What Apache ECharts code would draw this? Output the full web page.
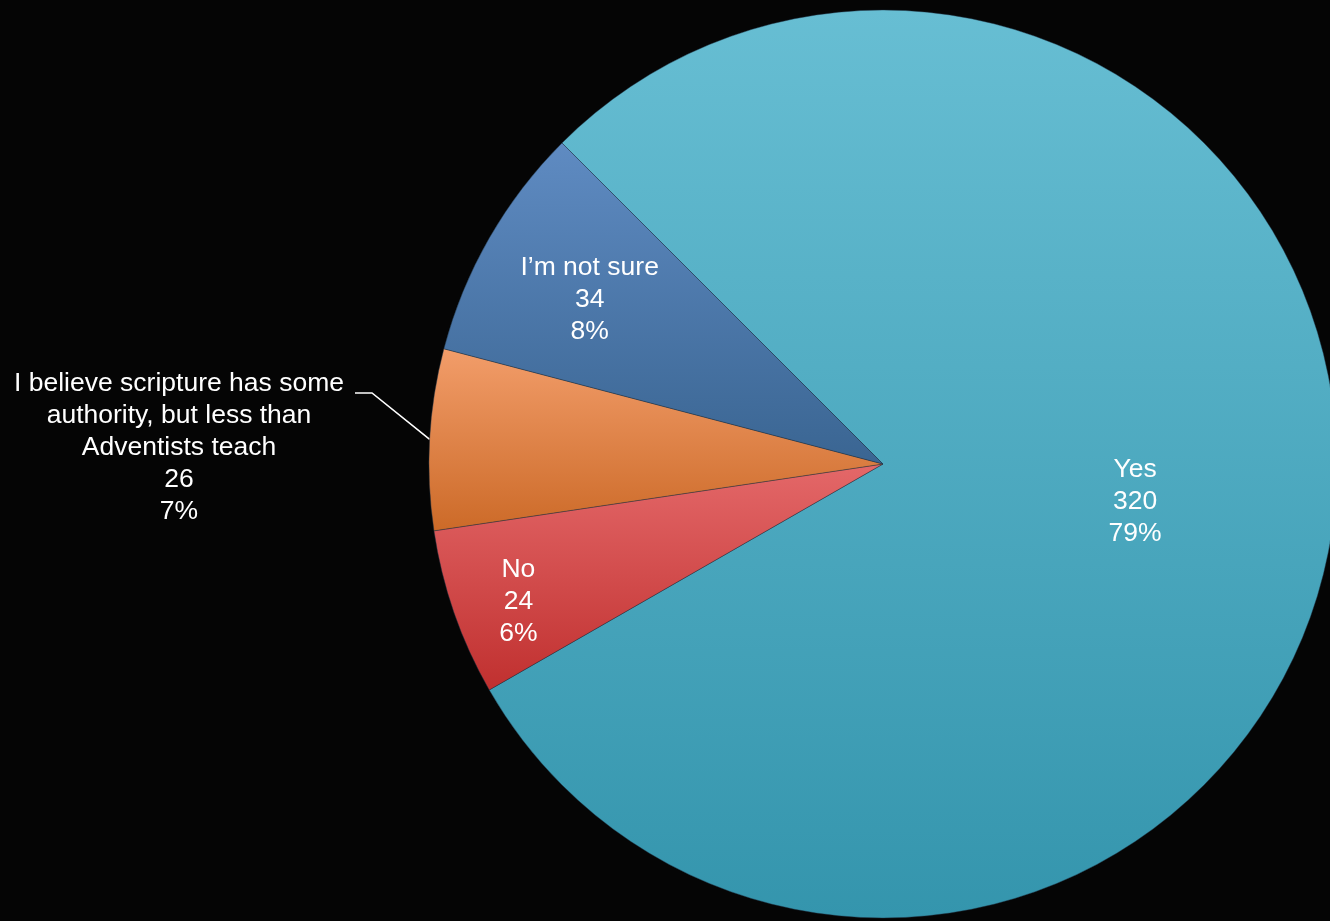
<!DOCTYPE html>
<html>
<head>
<meta charset="utf-8">
<script src="https://cdn.jsdelivr.net/npm/echarts@6/dist/echarts.min.js"></script>
<style>
html,body{margin:0;padding:0;background:#050505;}
#chart{width:1330px;height:921px;}
</style>
</head>
<body>
<div id="chart"></div>
<script>
// ---- data ----
const categories = ['Yes', 'No', 'I believe scripture has some\nauthority, but less than\nAdventists teach', 'I\u2019m not sure'];
const counts = [320, 24, 26, 34];
const percents = [79, 6, 7, 8];

// ---- styles ----
const gradients = [
  ['#67bed3', '#3495ad'],
  ['#e46869', '#c0302f'],
  ['#f29d6a', '#cc6a28'],
  ['#5f8bc2', '#3a6592']
];
const labelRadius = [0.56, 0.855, null, 0.745];
const labelAngleShift = [0, 0.016, 0, 0];

const chart = echarts.init(document.getElementById('chart'), null, {renderer: 'canvas'});
const CX = 883, CY = 464, R = 454;
const startAngle = 135;
const total = counts.reduce((a, b) => a + b, 0);

function midAngleRad(i) {
  let before = 0;
  for (let k = 0; k < i; k++) before += counts[k];
  const midDeg = startAngle - (before + counts[i] / 2) / total * 360;
  return midDeg * Math.PI / 180;
}

const data = categories.map((name, i) => {
  const outside = labelRadius[i] == null;
  return {
    name: name,
    value: counts[i],
    itemStyle: {
      color: new echarts.graphic.LinearGradient(0, 0, 0, 1, [
        {offset: 0, color: gradients[i][0]},
        {offset: 1, color: gradients[i][1]}
      ])
    },
    label: {
      show: true,
      position: outside ? 'outside' : 'inside'
    },
    labelLine: {
      show: outside,
      lineStyle: {color: '#ffffff', width: 1.6}
    }
  };
});

chart.setOption({
  backgroundColor: '#050505',
  animation: false,
  series: [{
    type: 'pie',
    center: [CX, CY],
    radius: R,
    startAngle: startAngle,
    clockwise: true,
    avoidLabelOverlap: false,
    data: data,
    itemStyle: {borderColor: 'rgba(30,50,70,0.55)', borderWidth: 0.8},
    label: {
      color: '#ffffff',
      fontFamily: 'Liberation Sans, Arial, sans-serif',
      fontSize: 26.5,
      lineHeight: 32,
      align: 'center',
      formatter: function (p) {
        return p.name + '\n' + counts[p.dataIndex] + '\n' + percents[p.dataIndex] + '%';
      }
    },
    labelLayout: function (p) {
      const i = p.dataIndex;
      const a = midAngleRad(i) + labelAngleShift[i];
      if (labelRadius[i] != null) {
        const f = labelRadius[i];
        return {
          x: CX + f * R * Math.cos(a),
          y: CY - f * R * Math.sin(a) + 4,
          align: 'center',
          verticalAlign: 'middle'
        };
      }
      const ex = CX + R * Math.cos(a), ey = CY - R * Math.sin(a);
      return {
        x: 179,
        y: 448,
        align: 'center',
        verticalAlign: 'middle',
        labelLinePoints: [[ex, ey], [372, 393], [355, 393]]
      };
    }
  }]
});
</script>
</body>
</html>
